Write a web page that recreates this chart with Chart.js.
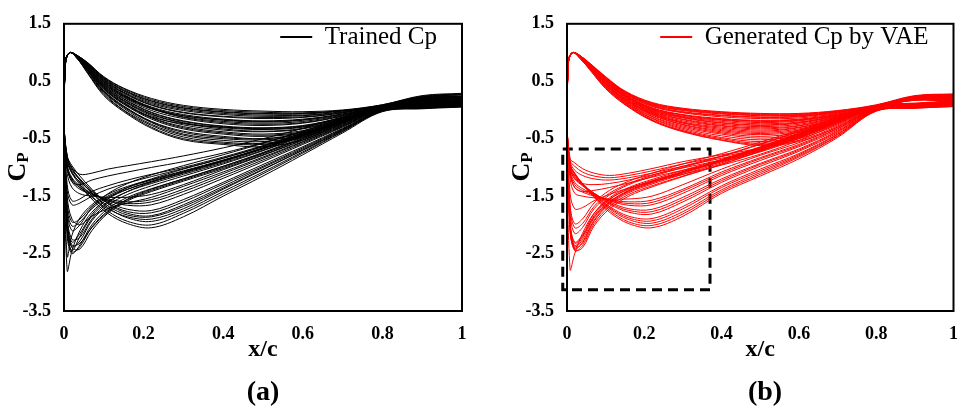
<!DOCTYPE html>
<html><head><meta charset="utf-8">
<script src="https://cdn.jsdelivr.net/npm/chart.js@4.4.1/dist/chart.umd.min.js"></script>
<style>
html,body{margin:0;padding:0;background:#fff;width:971px;height:412px;overflow:hidden;}
canvas{position:absolute;top:0;}
#ca{left:0;} #cb{left:485px;}
.ytitle{position:absolute;width:60px;height:30px;line-height:30px;text-align:center;font:bold 26px "Liberation Serif","Times New Roman",serif;transform:rotate(-90deg);color:#000;white-space:nowrap;}
.ytitle sub{font-size:17px;vertical-align:-3px;line-height:0;}
.plabel{position:absolute;width:80px;text-align:center;font:bold 28px "Liberation Serif","Times New Roman",serif;top:374px;height:34px;line-height:34px;color:#000;}
</style></head><body>
<canvas id="ca" width="485" height="412"></canvas>
<canvas id="cb" width="486" height="412"></canvas>
<div class="ytitle" style="left:-13px;top:152px">C<sub>P</sub></div>
<div class="ytitle" style="left:491px;top:152px">C<sub>P</sub></div>
<div class="plabel" style="left:223px">(a)</div>
<div class="plabel" style="left:725px">(b)</div>
<script>
const xTickValues = [0, 0.2, 0.4, 0.6, 0.8, 1];
const xTickLabels = ['0', '0.2', '0.4', '0.6', '0.8', '1'];
const yTickValues = [1.5, 0.5, -0.5, -1.5, -2.5, -3.5];
const yTickLabels = ['1.5', '0.5', '-0.5', '-1.5', '-2.5', '-3.5'];

// x/c stations: suction side (trailing edge -> leading edge), pressure side (leading edge -> trailing edge)
const xSuction = [1, 0.9, 0.8, 0.7, 0.6, 0.5, 0.4, 0.3, 0.22, 0.16, 0.11, 0.07, 0.04, 0.02, 0.008, 0];
const xPressure = [0.004, 0.015, 0.035, 0.06, 0.1, 0.15, 0.22, 0.3, 0.4, 0.5, 0.6, 0.7, 0.8, 0.9, 1];

const trainedSuction = [
  [0.14, 0.1, 0.05, -0.2, -0.45, -0.7, -0.92, -1.12, -1.28, -1.42, -1.6, -1.85, -2.2, -2.45, -2.1, -0.4],
  [0.15, 0.11, 0.06, -0.17, -0.4, -0.63, -0.84, -1.03, -1.2, -1.35, -1.55, -1.82, -2.15, -2.3, -1.9, -0.35],
  [0.13, 0.09, 0.04, -0.22, -0.48, -0.74, -0.98, -1.2, -1.37, -1.52, -1.72, -2.0, -2.35, -2.5, -2.2, -0.4],
  [0.16, 0.12, 0.07, -0.15, -0.37, -0.58, -0.78, -0.97, -1.13, -1.28, -1.46, -1.7, -2.0, -2.1, -1.75, -0.3],
  [0.12, 0.08, 0.03, -0.25, -0.52, -0.78, -1.02, -1.24, -1.42, -1.58, -1.8, -2.1, -2.42, -2.4, -2.0, -0.35],
  [0.15, 0.11, 0.06, -0.18, -0.42, -0.66, -0.88, -1.08, -1.24, -1.38, -1.55, -1.78, -2.1, -2.45, -2.8, -0.5],
  [0.14, 0.1, 0.05, -0.19, -0.44, -0.68, -0.9, -1.1, -1.25, -1.38, -1.52, -1.72, -1.95, -2.02, -1.7, -0.3],
  [0.13, 0.09, 0.04, -0.21, -0.46, -0.71, -0.94, -1.15, -1.32, -1.47, -1.66, -1.93, -2.28, -2.38, -2.05, -0.35],
  [0.05, 0.02, -0.03, -0.4, -0.78, -1.15, -1.5, -1.86, -2.05, -1.98, -1.8, -1.55, -1.3, -1.1, -0.85, -0.2],
  [0.06, 0.03, -0.02, -0.37, -0.73, -1.08, -1.42, -1.76, -1.94, -1.88, -1.7, -1.45, -1.22, -1.02, -0.82, -0.2],
  [0.07, 0.04, -0.01, -0.34, -0.68, -1.0, -1.33, -1.65, -1.84, -1.8, -1.63, -1.38, -1.15, -0.97, -0.8, -0.2],
  [0.08, 0.05, 0.0, -0.32, -0.64, -0.95, -1.26, -1.56, -1.75, -1.73, -1.6, -1.42, -1.25, -1.1, -0.9, -0.2],
  [0.09, 0.05, 0.01, -0.3, -0.6, -0.9, -1.19, -1.47, -1.65, -1.66, -1.58, -1.45, -1.32, -1.18, -0.95, -0.2],
  [0.1, 0.06, 0.02, -0.28, -0.56, -0.84, -1.11, -1.38, -1.56, -1.6, -1.55, -1.47, -1.38, -1.25, -1.0, -0.25],
  [0.1, 0.07, 0.02, -0.26, -0.53, -0.79, -1.04, -1.3, -1.47, -1.52, -1.52, -1.5, -1.46, -1.35, -1.1, -0.25],
  [0.06, 0.03, -0.02, -0.36, -0.7, -1.04, -1.38, -1.72, -1.9, -1.86, -1.72, -1.52, -1.35, -1.2, -1.0, -0.2],
  [0.11, 0.07, 0.03, -0.24, -0.5, -0.75, -0.98, -1.2, -1.38, -1.55, -1.78, -2.05, -2.32, -2.35, -1.95, -0.35],
  [0.12, 0.09, 0.06, -0.12, -0.32, -0.5, -0.66, -0.8, -0.9, -0.97, -1.03, -1.1, -1.12, -1.0, -0.8, -0.2],
  [0.11, 0.08, 0.05, -0.15, -0.37, -0.57, -0.75, -0.9, -1.0, -1.08, -1.15, -1.22, -1.3, -1.25, -1.0, -0.25],
  [0.1, 0.07, 0.04, -0.17, -0.4, -0.62, -0.82, -1.0, -1.12, -1.22, -1.32, -1.42, -1.55, -1.58, -1.3, -0.25],
  [0.13, 0.09, 0.04, -0.23, -0.5, -0.76, -1.0, -1.22, -1.4, -1.56, -1.76, -2.04, -2.38, -2.47, -2.1, -0.4],
  [0.15, 0.11, 0.06, -0.18, -0.43, -0.67, -0.89, -1.09, -1.26, -1.42, -1.62, -1.9, -2.22, -2.25, -1.85, -0.35],
  [0.07, 0.04, -0.01, -0.35, -0.7, -1.03, -1.36, -1.68, -1.86, -1.83, -1.67, -1.44, -1.22, -1.05, -0.88, -0.2],
  [0.08, 0.05, 0.0, -0.33, -0.66, -0.98, -1.29, -1.6, -1.79, -1.77, -1.62, -1.4, -1.2, -1.02, -0.85, -0.2],
  [0.09, 0.06, 0.01, -0.29, -0.58, -0.87, -1.15, -1.42, -1.6, -1.63, -1.57, -1.46, -1.35, -1.22, -0.98, -0.2],
  [0.12, 0.08, 0.04, -0.2, -0.44, -0.67, -0.88, -1.07, -1.22, -1.35, -1.5, -1.68, -1.9, -1.95, -1.6, -0.3],
  [0.11, 0.08, 0.04, -0.19, -0.42, -0.64, -0.84, -1.02, -1.16, -1.27, -1.38, -1.5, -1.62, -1.65, -1.4, -0.3],
  [0.1, 0.06, 0.02, -0.27, -0.55, -0.82, -1.08, -1.33, -1.52, -1.62, -1.72, -1.85, -2.0, -1.9, -1.5, -0.3],
  [0.14, 0.1, 0.05, -0.19, -0.43, -0.66, -0.87, -1.06, -1.21, -1.33, -1.47, -1.65, -1.88, -2.18, -2.55, -0.45],
  [0.06, 0.03, -0.02, -0.38, -0.75, -1.11, -1.46, -1.8, -2.0, -1.94, -1.76, -1.5, -1.27, -1.08, -0.88, -0.2]
];
const trainedPressure = [
  [0.88, 1.0, 0.94, 0.82, 0.57, 0.37, 0.18, 0.06, -0.01, -0.04, -0.05, -0.01, 0.08, 0.22, 0.27],
  [0.87, 1.0, 0.94, 0.81, 0.55, 0.34, 0.15, 0.03, -0.04, -0.07, -0.07, -0.02, 0.08, 0.23, 0.26],
  [0.87, 1.0, 0.93, 0.8, 0.53, 0.31, 0.11, -0.01, -0.08, -0.11, -0.1, -0.04, 0.07, 0.21, 0.24],
  [0.86, 1.0, 0.93, 0.79, 0.51, 0.29, 0.08, -0.05, -0.12, -0.15, -0.13, -0.05, 0.07, 0.2, 0.22],
  [0.86, 1.0, 0.93, 0.78, 0.5, 0.27, 0.05, -0.08, -0.16, -0.19, -0.16, -0.07, 0.06, 0.2, 0.21],
  [0.86, 1.0, 0.92, 0.77, 0.48, 0.24, 0.02, -0.12, -0.2, -0.23, -0.2, -0.09, 0.06, 0.19, 0.2],
  [0.85, 1.0, 0.92, 0.76, 0.46, 0.22, -0.01, -0.15, -0.24, -0.27, -0.23, -0.11, 0.05, 0.18, 0.18],
  [0.85, 1.0, 0.92, 0.75, 0.44, 0.2, -0.04, -0.19, -0.28, -0.31, -0.27, -0.13, 0.05, 0.18, 0.17],
  [0.85, 1.0, 0.91, 0.74, 0.42, 0.17, -0.07, -0.22, -0.31, -0.34, -0.3, -0.14, 0.04, 0.17, 0.16],
  [0.84, 1.0, 0.91, 0.73, 0.4, 0.15, -0.1, -0.26, -0.35, -0.38, -0.33, -0.16, 0.04, 0.16, 0.14],
  [0.84, 1.0, 0.91, 0.72, 0.39, 0.13, -0.13, -0.29, -0.38, -0.42, -0.36, -0.17, 0.04, 0.16, 0.13],
  [0.84, 1.0, 0.9, 0.7, 0.36, 0.1, -0.16, -0.33, -0.42, -0.46, -0.39, -0.18, 0.03, 0.15, 0.12],
  [0.83, 1.0, 0.9, 0.69, 0.34, 0.07, -0.2, -0.37, -0.46, -0.5, -0.42, -0.19, 0.03, 0.15, 0.11],
  [0.83, 1.0, 0.89, 0.67, 0.31, 0.03, -0.25, -0.44, -0.53, -0.55, -0.45, -0.2, 0.03, 0.14, 0.1],
  [0.82, 1.0, 0.88, 0.64, 0.27, -0.01, -0.3, -0.5, -0.58, -0.6, -0.48, -0.21, 0.03, 0.13, 0.09],
  [0.82, 1.0, 0.88, 0.63, 0.25, -0.03, -0.32, -0.52, -0.6, -0.64, -0.52, -0.23, 0.02, 0.12, 0.07],
  [0.87, 1.0, 0.94, 0.82, 0.58, 0.38, 0.2, 0.08, 0.01, -0.02, -0.03, 0.0, 0.09, 0.24, 0.28],
  [0.85, 1.0, 0.91, 0.75, 0.45, 0.23, 0.02, -0.1, -0.17, -0.2, -0.17, -0.07, 0.06, 0.21, 0.23],
  [0.84, 1.0, 0.9, 0.71, 0.38, 0.12, -0.12, -0.24, -0.3, -0.32, -0.28, -0.13, 0.04, 0.17, 0.15],
  [0.83, 1.0, 0.89, 0.68, 0.32, 0.05, -0.22, -0.42, -0.5, -0.52, -0.44, -0.2, 0.02, 0.14, 0.1],
  [0.87, 1.0, 0.93, 0.8, 0.54, 0.33, 0.13, 0.01, -0.06, -0.09, -0.09, -0.03, 0.08, 0.23, 0.27],
  [0.86, 1.0, 0.92, 0.78, 0.49, 0.26, 0.04, -0.1, -0.18, -0.21, -0.18, -0.08, 0.06, 0.2, 0.22],
  [0.85, 1.0, 0.91, 0.74, 0.43, 0.19, -0.05, -0.2, -0.29, -0.33, -0.29, -0.14, 0.05, 0.18, 0.17],
  [0.84, 1.0, 0.9, 0.71, 0.37, 0.11, -0.14, -0.31, -0.4, -0.44, -0.38, -0.18, 0.03, 0.16, 0.13],
  [0.83, 1.0, 0.89, 0.68, 0.33, 0.06, -0.21, -0.39, -0.48, -0.5, -0.4, -0.19, 0.03, 0.15, 0.11],
  [0.87, 1.0, 0.94, 0.81, 0.56, 0.35, 0.16, 0.04, -0.03, -0.06, -0.06, -0.01, 0.09, 0.25, 0.29],
  [0.86, 1.0, 0.92, 0.77, 0.47, 0.25, 0.03, -0.13, -0.22, -0.25, -0.22, -0.1, 0.05, 0.19, 0.19],
  [0.85, 1.0, 0.91, 0.73, 0.41, 0.16, -0.08, -0.23, -0.33, -0.37, -0.32, -0.15, 0.04, 0.17, 0.15],
  [0.82, 1.0, 0.88, 0.65, 0.29, 0.0, -0.27, -0.47, -0.56, -0.58, -0.47, -0.21, 0.02, 0.13, 0.08],
  [0.86, 1.0, 0.93, 0.79, 0.52, 0.3, 0.09, -0.04, -0.11, -0.13, -0.12, -0.05, 0.07, 0.22, 0.24]
];

const generatedSuction = [
  [0.14, 0.1, 0.06, -0.17, -0.42, -0.66, -0.88, -1.08, -1.24, -1.38, -1.55, -1.8, -2.15, -2.5, -2.78, -0.5],
  [0.14, 0.1, 0.06, -0.18, -0.43, -0.68, -0.9, -1.1, -1.27, -1.42, -1.62, -1.92, -2.3, -2.42, -2.0, -0.4],
  [0.13, 0.09, 0.05, -0.2, -0.46, -0.71, -0.94, -1.15, -1.32, -1.47, -1.68, -1.98, -2.36, -2.45, -2.05, -0.4],
  [0.15, 0.11, 0.07, -0.16, -0.4, -0.64, -0.86, -1.05, -1.21, -1.35, -1.53, -1.8, -2.18, -2.3, -1.95, -0.35],
  [0.15, 0.11, 0.07, -0.15, -0.38, -0.6, -0.81, -1.0, -1.16, -1.3, -1.48, -1.72, -2.05, -2.15, -1.8, -0.35],
  [0.14, 0.1, 0.06, -0.17, -0.41, -0.65, -0.87, -1.07, -1.23, -1.37, -1.56, -1.84, -2.22, -2.36, -2.0, -0.4],
  [0.16, 0.12, 0.08, -0.13, -0.35, -0.56, -0.76, -0.94, -1.1, -1.24, -1.4, -1.62, -1.9, -1.98, -1.65, -0.3],
  [0.13, 0.09, 0.05, -0.19, -0.44, -0.69, -0.92, -1.12, -1.29, -1.44, -1.64, -1.94, -2.32, -2.4, -2.1, -0.4],
  [0.06, 0.03, -0.02, -0.48, -0.85, -1.15, -1.45, -1.85, -2.05, -1.98, -1.78, -1.52, -1.3, -1.12, -0.95, -0.2],
  [0.07, 0.04, -0.01, -0.45, -0.8, -1.09, -1.39, -1.77, -1.97, -1.91, -1.72, -1.48, -1.28, -1.1, -0.95, -0.2],
  [0.07, 0.04, -0.01, -0.42, -0.76, -1.03, -1.32, -1.68, -1.89, -1.85, -1.68, -1.46, -1.28, -1.12, -0.95, -0.2],
  [0.08, 0.05, 0.0, -0.4, -0.72, -0.98, -1.26, -1.6, -1.81, -1.78, -1.64, -1.45, -1.3, -1.15, -1.0, -0.2],
  [0.08, 0.05, 0.0, -0.37, -0.68, -0.93, -1.2, -1.52, -1.73, -1.72, -1.6, -1.45, -1.32, -1.2, -1.02, -0.25],
  [0.09, 0.06, 0.01, -0.35, -0.64, -0.88, -1.14, -1.45, -1.65, -1.66, -1.58, -1.47, -1.37, -1.26, -1.05, -0.25],
  [0.09, 0.06, 0.01, -0.32, -0.6, -0.83, -1.08, -1.38, -1.57, -1.6, -1.56, -1.5, -1.43, -1.35, -1.1, -0.25],
  [0.1, 0.07, 0.02, -0.3, -0.57, -0.79, -1.03, -1.3, -1.5, -1.55, -1.55, -1.53, -1.5, -1.45, -1.2, -0.3],
  [0.12, 0.09, 0.06, -0.18, -0.45, -0.66, -0.78, -0.9, -1.02, -1.1, -1.14, -1.1, -1.02, -0.92, -0.85, -0.2],
  [0.12, 0.08, 0.05, -0.2, -0.48, -0.7, -0.84, -0.98, -1.1, -1.18, -1.22, -1.2, -1.14, -1.05, -0.9, -0.2],
  [0.11, 0.08, 0.05, -0.22, -0.5, -0.73, -0.9, -1.05, -1.17, -1.27, -1.35, -1.4, -1.42, -1.35, -1.1, -0.25],
  [0.11, 0.07, 0.04, -0.24, -0.53, -0.77, -0.96, -1.12, -1.25, -1.36, -1.47, -1.58, -1.7, -1.72, -1.45, -0.3],
  [0.14, 0.1, 0.06, -0.17, -0.42, -0.66, -0.88, -1.08, -1.25, -1.4, -1.6, -1.88, -2.26, -2.38, -2.0, -0.4],
  [0.15, 0.11, 0.07, -0.14, -0.37, -0.59, -0.8, -0.98, -1.14, -1.28, -1.45, -1.68, -1.98, -2.05, -1.7, -0.3],
  [0.13, 0.09, 0.05, -0.21, -0.47, -0.72, -0.95, -1.16, -1.34, -1.5, -1.72, -2.02, -2.4, -2.44, -2.1, -0.4],
  [0.06, 0.03, -0.02, -0.46, -0.82, -1.12, -1.42, -1.81, -2.01, -1.95, -1.75, -1.5, -1.29, -1.11, -0.95, -0.2],
  [0.07, 0.04, -0.01, -0.43, -0.78, -1.06, -1.35, -1.72, -1.93, -1.88, -1.7, -1.47, -1.28, -1.11, -0.95, -0.2],
  [0.08, 0.05, 0.0, -0.38, -0.7, -0.95, -1.23, -1.56, -1.77, -1.75, -1.62, -1.45, -1.31, -1.17, -1.0, -0.2],
  [0.09, 0.06, 0.01, -0.33, -0.62, -0.85, -1.11, -1.41, -1.61, -1.63, -1.57, -1.48, -1.4, -1.3, -1.08, -0.25],
  [0.11, 0.08, 0.05, -0.21, -0.49, -0.71, -0.87, -1.01, -1.13, -1.22, -1.28, -1.3, -1.28, -1.2, -1.0, -0.25],
  [0.12, 0.09, 0.06, -0.19, -0.46, -0.68, -0.81, -0.94, -1.06, -1.14, -1.18, -1.15, -1.08, -0.98, -0.88, -0.2],
  [0.13, 0.09, 0.05, -0.18, -0.43, -0.67, -0.89, -1.09, -1.26, -1.41, -1.6, -1.86, -2.2, -2.32, -1.98, -0.4]
];
const generatedPressure = [
  [0.88, 1.0, 0.94, 0.8, 0.57, 0.32, 0.12, 0.02, -0.04, -0.07, -0.07, -0.02, 0.08, 0.24, 0.27],
  [0.88, 1.0, 0.94, 0.8, 0.56, 0.31, 0.1, 0.0, -0.06, -0.09, -0.09, -0.03, 0.08, 0.23, 0.26],
  [0.87, 1.0, 0.93, 0.79, 0.55, 0.3, 0.08, -0.03, -0.09, -0.12, -0.11, -0.04, 0.07, 0.23, 0.25],
  [0.87, 1.0, 0.93, 0.78, 0.54, 0.28, 0.06, -0.05, -0.12, -0.15, -0.14, -0.06, 0.07, 0.22, 0.24],
  [0.87, 1.0, 0.93, 0.78, 0.53, 0.27, 0.04, -0.08, -0.15, -0.18, -0.16, -0.07, 0.06, 0.22, 0.23],
  [0.86, 1.0, 0.92, 0.77, 0.51, 0.25, 0.02, -0.11, -0.18, -0.22, -0.19, -0.09, 0.06, 0.21, 0.22],
  [0.86, 1.0, 0.92, 0.76, 0.5, 0.24, 0.0, -0.13, -0.22, -0.26, -0.22, -0.1, 0.05, 0.21, 0.21],
  [0.86, 1.0, 0.92, 0.76, 0.49, 0.22, -0.02, -0.16, -0.25, -0.29, -0.25, -0.12, 0.05, 0.2, 0.2],
  [0.85, 1.0, 0.91, 0.75, 0.47, 0.2, -0.04, -0.19, -0.28, -0.33, -0.28, -0.13, 0.05, 0.2, 0.2],
  [0.85, 1.0, 0.91, 0.74, 0.46, 0.19, -0.06, -0.22, -0.32, -0.37, -0.31, -0.15, 0.04, 0.19, 0.19],
  [0.85, 1.0, 0.91, 0.73, 0.45, 0.17, -0.08, -0.25, -0.36, -0.41, -0.35, -0.17, 0.04, 0.19, 0.18],
  [0.85, 1.0, 0.9, 0.72, 0.43, 0.15, -0.11, -0.28, -0.4, -0.46, -0.39, -0.19, 0.04, 0.18, 0.17],
  [0.84, 1.0, 0.9, 0.71, 0.41, 0.13, -0.14, -0.32, -0.45, -0.52, -0.44, -0.22, 0.03, 0.18, 0.16],
  [0.84, 1.0, 0.89, 0.7, 0.39, 0.11, -0.17, -0.36, -0.5, -0.58, -0.5, -0.26, 0.03, 0.17, 0.15],
  [0.84, 1.0, 0.89, 0.69, 0.37, 0.09, -0.19, -0.38, -0.53, -0.62, -0.55, -0.3, 0.03, 0.17, 0.14],
  [0.87, 1.0, 0.93, 0.79, 0.56, 0.3, 0.09, -0.01, -0.07, -0.1, -0.1, -0.04, 0.08, 0.24, 0.27],
  [0.86, 1.0, 0.92, 0.77, 0.52, 0.26, 0.03, -0.09, -0.17, -0.2, -0.18, -0.08, 0.06, 0.22, 0.23],
  [0.85, 1.0, 0.91, 0.75, 0.48, 0.21, -0.03, -0.17, -0.27, -0.31, -0.27, -0.12, 0.05, 0.2, 0.2],
  [0.85, 1.0, 0.9, 0.73, 0.44, 0.16, -0.09, -0.26, -0.38, -0.43, -0.37, -0.18, 0.04, 0.19, 0.18],
  [0.84, 1.0, 0.89, 0.71, 0.4, 0.12, -0.15, -0.34, -0.48, -0.55, -0.47, -0.24, 0.03, 0.18, 0.16],
  [0.88, 1.0, 0.94, 0.8, 0.56, 0.31, 0.11, 0.01, -0.05, -0.08, -0.08, -0.02, 0.08, 0.24, 0.27],
  [0.87, 1.0, 0.93, 0.79, 0.54, 0.29, 0.07, -0.04, -0.1, -0.13, -0.12, -0.05, 0.07, 0.23, 0.25],
  [0.87, 1.0, 0.93, 0.78, 0.52, 0.26, 0.03, -0.09, -0.16, -0.19, -0.17, -0.08, 0.06, 0.22, 0.23],
  [0.86, 1.0, 0.92, 0.76, 0.5, 0.23, -0.01, -0.14, -0.23, -0.27, -0.23, -0.11, 0.05, 0.21, 0.21],
  [0.85, 1.0, 0.91, 0.74, 0.46, 0.18, -0.07, -0.23, -0.34, -0.39, -0.33, -0.16, 0.04, 0.19, 0.18],
  [0.85, 1.0, 0.9, 0.72, 0.42, 0.14, -0.12, -0.3, -0.42, -0.49, -0.42, -0.2, 0.04, 0.18, 0.17],
  [0.84, 1.0, 0.89, 0.7, 0.38, 0.1, -0.18, -0.37, -0.52, -0.6, -0.53, -0.28, 0.03, 0.17, 0.14],
  [0.88, 1.0, 0.94, 0.81, 0.58, 0.33, 0.13, 0.03, -0.03, -0.06, -0.06, -0.01, 0.09, 0.25, 0.28],
  [0.86, 1.0, 0.92, 0.77, 0.5, 0.24, 0.01, -0.12, -0.2, -0.24, -0.21, -0.1, 0.05, 0.21, 0.22],
  [0.85, 1.0, 0.91, 0.74, 0.45, 0.18, -0.05, -0.21, -0.3, -0.35, -0.3, -0.14, 0.05, 0.2, 0.19]
];

// dashed highlight box in panel (b), data coordinates
const boxX = [-0.011, 0.37, 0.37, -0.011, -0.011];
const boxY = [-0.678, -0.678, -3.128, -3.128, -0.678];

const FONT = '"Liberation Serif", "Times New Roman", serif';

const framePlugin = {
  id: 'frame',
  afterDraw(chart) {
    const {ctx, chartArea: a} = chart;
    ctx.save();
    ctx.strokeStyle = '#000';
    ctx.lineWidth = 2;
    ctx.strokeRect(a.left, a.top, a.right - a.left, a.bottom - a.top);
    ctx.restore();
  }
};

function curveData(s, p) {
  return xSuction.map((x, j) => ({x: x, y: s[j]}))
    .concat(xPressure.map((x, j) => ({x: x, y: p[j]})));
}

function makePanel(id, suction, pressure, color, label, showBox, axisWidth, rightPad) {
  const datasets = suction.map((s, i) => ({
    data: curveData(s, pressure[i]),
    borderColor: color, borderWidth: 1, pointRadius: 0, pointHoverRadius: 0,
    tension: 0.35, fill: false
  }));
  if (showBox) {
    datasets.push({
      data: boxX.map((x, j) => ({x: x, y: boxY[j]})),
      borderColor: '#000', borderWidth: 3, borderDash: [10, 6],
      pointRadius: 0, tension: 0, clip: false, fill: false
    });
  }
  const legendPlace = {
    id: 'legendPlace',
    afterLayout(chart) {
      const lg = chart.legend;
      if (!lg) return;
      const ctx = chart.ctx;
      ctx.save();
      ctx.font = '25px ' + FONT;
      const tw = ctx.measureText(label).width;
      ctx.restore();
      const pad = 10;
      const a = chart.chartArea;
      lg.left = a.right - 25 - tw - 12.5 - 32 - pad;
      lg.right = lg.left + lg.width;
      lg.top = 37 - 12.5 - pad;
      lg.bottom = lg.top + lg.height;
    }
  };
  return new Chart(document.getElementById(id), {
    type: 'line',
    data: {datasets: datasets},
    options: {
      responsive: false, animation: false, events: [],
      layout: {padding: {left: 0, right: rightPad, top: 11, bottom: 0}},
      plugins: {
        tooltip: {enabled: false},
        legend: {
          position: 'chartArea', align: 'start',
          labels: {
            usePointStyle: true, pointStyle: 'line', pointStyleWidth: 32, padding: 10,
            color: '#000', font: {family: FONT, size: 25},
            generateLabels: () => [{text: label, fillStyle: color, strokeStyle: color, lineWidth: 2,
              pointStyle: 'line', hidden: false, datasetIndex: 0, fontColor: '#000'}]
          }
        }
      },
      scales: {
        x: {
          type: 'linear', min: 0, max: 1,
          grid: {display: false, drawTicks: false}, border: {display: false},
          afterBuildTicks: s => { s.ticks = xTickValues.map(v => ({value: v})); },
          afterFit: s => { s.height = 101; },
          ticks: {callback: (v, i) => xTickLabels[i], font: {family: FONT, size: 18, weight: 'bold'},
            color: '#000', padding: 13, maxRotation: 0, autoSkip: false},
          title: {display: true, text: 'x/c', color: '#000', font: {family: FONT, size: 24, weight: 'bold'},
            padding: {top: 0, bottom: 48}}
        },
        y: {
          type: 'linear', min: -3.5, max: 1.5,
          grid: {display: false, drawTicks: false}, border: {display: false},
          afterBuildTicks: s => { s.ticks = yTickValues.map(v => ({value: v})); },
          afterFit: s => { s.width = axisWidth; },
          ticks: {callback: (v, i) => yTickLabels[i], font: {family: FONT, size: 18, weight: 'bold'},
            color: '#000', padding: 13, autoSkip: false}
        }
      }
    },
    plugins: [framePlugin, legendPlace]
  });
}

makePanel('ca', trainedSuction, trainedPressure, '#000000', 'Trained Cp', false, 64, 23);
makePanel('cb', generatedSuction, generatedPressure, '#ff0000', 'Generated Cp by VAE', true, 82, 7);
</script>
</body></html>
